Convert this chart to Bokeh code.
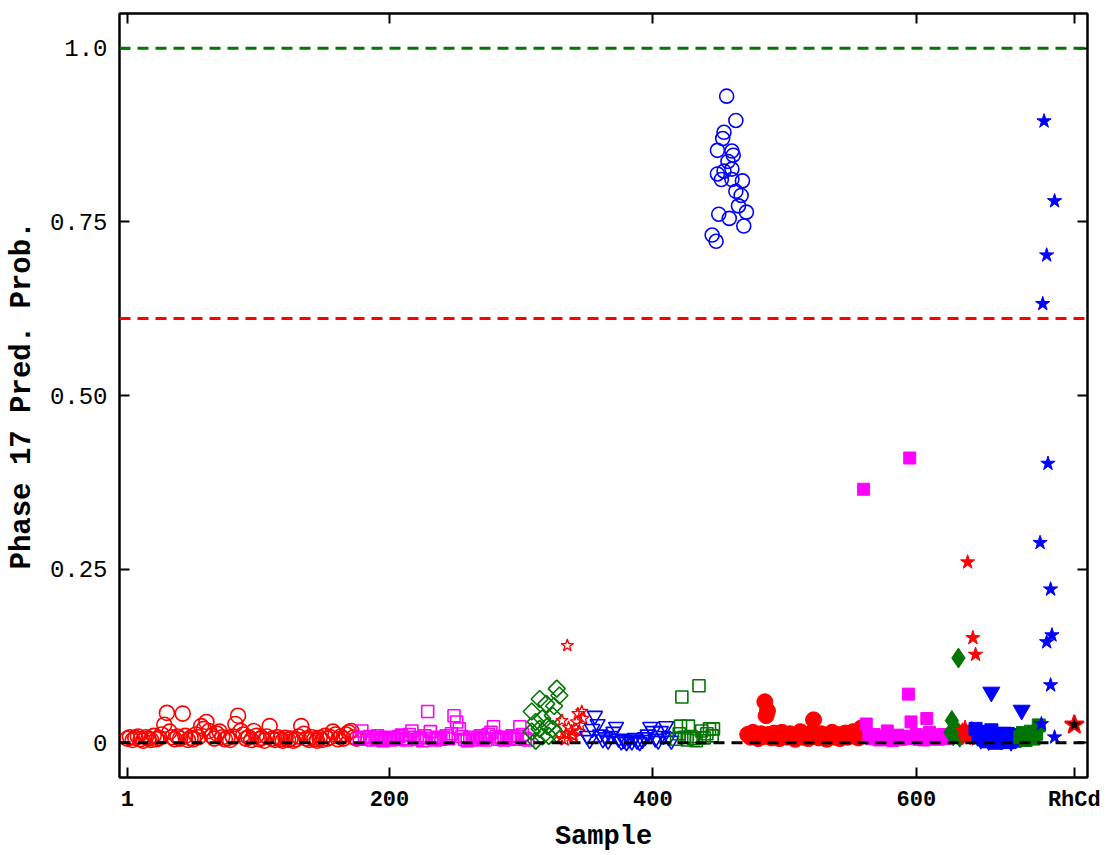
from bokeh.plotting import figure
from bokeh.models import Span, FixedTicker, LinearAxis
from bokeh.embed import file_html
from bokeh.resources import INLINE

# ---------------- data ----------------
red_open_x = [1,3,5,7,9,11,13,15,17,19,21,23,25,27,29,31,33,35,37,39,41,43,45,47,49,51,53,55,57,59,
              61,63,65,67,69,71,73,75,77,79,81,83,85,87,89,91,93,95,97,99,101,103,105,107,109,111,113,115,117,119,
              121,123,125,127,129,131,133,135,137,139,141,143,145,147,149,151,153,155,157,159,161,163,165,167,169,171,173,175]
red_open_y = [0.006,0.008,0.004,0.007,0.009,0.005,0.003,0.008,0.006,0.004,0.010,0.005,0.007,0.012,0.026,0.043,0.016,0.008,0.005,0.009,
              0.006,0.042,0.010,0.004,0.007,0.005,0.012,0.008,0.024,0.020,0.030,0.017,0.010,0.006,0.013,0.016,0.008,0.005,0.007,0.004,
              0.009,0.027,0.039,0.017,0.012,0.006,0.008,0.004,0.017,0.010,0.005,0.007,0.003,0.009,0.024,0.006,0.004,0.008,0.005,0.003,
              0.007,0.004,0.006,0.003,0.005,0.009,0.024,0.013,0.006,0.004,0.008,0.005,0.003,0.007,0.004,0.010,0.006,0.008,0.016,0.012,
              0.005,0.009,0.006,0.012,0.015,0.017,0.008,0.006]

mag_open_x = [177,179,181,183,185,187,189,191,193,195,197,199,201,203,205,207,209,211,213,215,217,219,221,223,225,227,229,231,233,235,
              237,239,241,243,245,247,249,251,253,255,257,259,261,263,265,267,269,271,273,275,277,279,281,283,285,287,289,291,293,295,
              297,299,301,303,305]
mag_open_y = [0.006,0.017,0.008,0.005,0.009,0.004,0.007,0.010,0.005,0.003,0.008,0.006,0.004,0.007,0.005,0.009,0.011,0.006,0.004,0.012,
              0.017,0.008,0.005,0.007,0.003,0.010,0.045,0.016,0.006,0.004,0.008,0.005,0.007,0.010,0.006,0.013,0.039,0.030,0.020,0.009,
              0.005,0.003,0.007,0.004,0.008,0.005,0.010,0.006,0.004,0.012,0.015,0.023,0.009,0.005,0.007,0.004,0.008,0.006,0.010,0.005,
              0.009,0.023,0.012,0.006,0.004]

grn_open_d_x = [314,319,327,329,325,308,311,316,324,308,314,320,324,311,316,321,327]
grn_open_d_y = [0.063,0.056,0.078,0.068,0.053,0.045,0.030,0.035,0.039,0.016,0.020,0.024,0.020,0.003,0.009,0.010,0.013]

red_open_star_x = [331,334,335,338,340,342,344,346,331,336,339,343,345,347,333]
red_open_star_y = [0.032,0.013,0.140,0.017,0.009,0.030,0.016,0.045,0.006,0.022,0.011,0.042,0.025,0.035,0.004]

blue_open_tri_x = [350,352,354,356,358,360,362,364,366,368,370,372,374,376,378,380,382,384,386,388,390,392,394,396,398,400,402,404,406,408,410,412,414]
blue_open_tri_y = [0.010,0.004,0.020,0.039,0.027,0.012,0.005,0.008,0.003,0.010,0.016,0.023,0.006,0.002,0.004,0.001,0.005,0.002,0.007,0.003,
                   0.001,0.004,0.008,0.012,0.023,0.017,0.006,0.003,0.017,0.010,0.024,0.008,0.003]

blue_open_circ_x = [456,463,454,453,449,460,461,457,460,454,449,452,460,468,463,467,465,471,450,458,469,445,448]
blue_open_circ_y = [0.931,0.896,0.879,0.870,0.853,0.852,0.846,0.837,0.826,0.823,0.819,0.811,0.811,0.809,0.794,0.788,0.773,0.764,0.761,0.755,
                    0.744,0.731,0.722]

grn_open_sq_x = [418,420,421,422,424,426,427,429,431,433,435,437,439,441,443,445,446]
grn_open_sq_y = [0.005,0.013,0.024,0.066,0.008,0.004,0.024,0.009,0.006,0.003,0.082,0.017,0.007,0.013,0.020,0.010,0.020]

red_fill_x = [472,474,476,478,480,482,484,485,486,487,488,490,492,494,496,498,500,502,504,506,508,510,512,514,516,518,520,522,524,526,
              528,530,532,534,536,538,540,542,544,546,548,550,552,554,556,558]
red_fill_y = [0.012,0.008,0.015,0.010,0.006,0.013,0.009,0.059,0.039,0.046,0.012,0.007,0.014,0.010,0.006,0.015,0.011,0.008,0.013,0.009,
              0.005,0.012,0.016,0.008,0.011,0.006,0.014,0.033,0.010,0.007,0.013,0.009,0.005,0.011,0.015,0.008,0.012,0.006,0.010,0.014,
              0.008,0.011,0.016,0.009,0.007,0.021]

mag_fill_x = [560,562,564,566,568,570,572,574,576,578,580,582,584,586,588,590,592,594,595,596,598,600,602,604,606,608,610,612,614,616,618,620,622]
mag_fill_y = [0.365,0.027,0.010,0.006,0.012,0.008,0.004,0.009,0.005,0.017,0.007,0.003,0.008,0.011,0.005,0.009,0.006,0.070,0.410,0.030,
              0.008,0.012,0.005,0.009,0.004,0.035,0.015,0.007,0.010,0.005,0.008,0.012,0.006]

grn_fill_d_x = [626,627,628,630,632,633]
grn_fill_d_y = [0.015,0.032,0.010,0.020,0.122,0.008]

red_fill_star_x = [635,636,637,638,639,640,641,642,643,644,645,646]
red_fill_star_y = [0.018,0.010,0.022,0.006,0.260,0.014,0.008,0.020,0.151,0.012,0.127,0.005]

blue_fill_sq_x = [645,647,649,651,653,655,657,659,661,663,665,667,669,671,673,675,677]
blue_fill_sq_y = [0.020,0.008,0.015,0.005,0.012,0.002,0.018,0.007,0.000,0.010,0.004,0.013,0.006,0.001,0.009,0.003,0.011]

blue_fill_tri_x = [646,649,652,655,657,660,664,668,672,676,680]
blue_fill_tri_y = [0.012,0.005,0.018,0.003,0.073,0.010,0.004,0.015,0.002,0.008,0.047]

grn_fill_sq_x = [679,681,683,685,687,689,691,693]
grn_fill_sq_y = [0.008,0.014,0.004,0.010,0.016,0.006,0.013,0.025]

blue_fill_star_x = [697,705,699,696,700,694,702,703,699,702,695,705]
blue_fill_star_y = [0.895,0.780,0.702,0.632,0.402,0.288,0.221,0.155,0.145,0.083,0.027,0.008]

rhcd_x = [720]
rhcd_y = [0.026]

x_ticks = [1, 200, 400, 600, 720]
x_tick_labels = ["1", "200", "400", "600", "RhCd"]
y_ticks = [0, 0.25, 0.5, 0.75, 1.0]
y_tick_labels = ["0", "0.25", "0.50", "0.75", "1.0"]

upper_threshold = 1.0
red_threshold = 0.611
zero_line = 0.0

# ---------------- figure ----------------
RED = "#FF0000"
MAG = "#FF00FF"
GRN = "#037503"
BLUE = "#0000FF"
FONT = "Liberation Mono"

p = figure(frame_width=968, frame_height=764, x_range=(-5, 730), y_range=(-0.05, 1.05),
           output_backend="svg", toolbar_location=None,
           min_border_left=119, min_border_top=13, min_border_right=14, min_border_bottom=64)
p.grid.visible = False
p.outline_line_color = "black"
p.outline_line_width = 2
p.background_fill_color = "white"
p.border_fill_color = "white"

ow = 1.6
p.scatter(red_open_x, red_open_y, marker="circle", size=15, fill_color=None, line_color=RED, line_width=ow)
p.scatter(mag_open_x, mag_open_y, marker="square", size=12, fill_color=None, line_color=MAG, line_width=ow)
p.scatter(grn_open_d_x, grn_open_d_y, marker="square", angle=0.7854, size=12, fill_color=None, line_color=GRN, line_width=ow)
p.scatter(red_open_star_x, red_open_star_y, marker="star", size=13, fill_color=None, line_color=RED, line_width=1.3)
p.scatter(blue_open_tri_x, blue_open_tri_y, marker="inverted_triangle", size=15, fill_color=None, line_color=BLUE, line_width=ow)
p.scatter(blue_open_circ_x, blue_open_circ_y, marker="circle", size=14, fill_color=None, line_color=BLUE, line_width=ow)
p.scatter(grn_open_sq_x, grn_open_sq_y, marker="square", size=12, fill_color=None, line_color=GRN, line_width=ow)
p.scatter(red_fill_x, red_fill_y, marker="circle", size=16, fill_color=RED, line_color=RED)
p.scatter(mag_fill_x, mag_fill_y, marker="square", size=12, fill_color=MAG, line_color=MAG)
p.scatter(grn_fill_d_x, grn_fill_d_y, marker="diamond", size=20, fill_color=GRN, line_color=GRN)
p.scatter(red_fill_star_x, red_fill_star_y, marker="star", size=15, fill_color=RED, line_color=RED)
p.scatter(blue_fill_sq_x, blue_fill_sq_y, marker="square", size=13, fill_color=BLUE, line_color=BLUE)
p.scatter(blue_fill_tri_x, blue_fill_tri_y, marker="inverted_triangle", size=17, fill_color=BLUE, line_color=BLUE)
p.scatter(grn_fill_sq_x, grn_fill_sq_y, marker="square", size=13, fill_color=GRN, line_color=GRN)
p.scatter(blue_fill_star_x, blue_fill_star_y, marker="star", size=15, fill_color=BLUE, line_color=BLUE)
p.scatter(rhcd_x, rhcd_y, marker="star", size=20, fill_color="black", line_color=RED, line_width=2)

for loc, col in [(upper_threshold, GRN), (red_threshold, RED), (zero_line, "black")]:
    p.add_layout(Span(location=loc, dimension="width", line_color=col, line_dash="11 7", line_width=3))

# axes
xb = p.xaxis[0]
yl = p.yaxis[0]
xb.ticker = FixedTicker(ticks=x_ticks)
xb.major_label_overrides = {t: l for t, l in zip(x_ticks, x_tick_labels)}
yl.ticker = FixedTicker(ticks=y_ticks)
yl.major_label_overrides = {t: l for t, l in zip(y_ticks, y_tick_labels)}
xb.axis_label = "Sample"
yl.axis_label = "Phase 17 Pred. Prob."

top = LinearAxis(ticker=FixedTicker(ticks=x_ticks))
top.major_label_overrides = {t: "" for t in x_ticks}
right = LinearAxis(ticker=FixedTicker(ticks=y_ticks))
right.major_label_overrides = {t: "" for t in y_ticks}
p.add_layout(top, "above")
p.add_layout(right, "right")

for ax in [xb, yl, top, right]:
    ax.axis_line_width = 2
    ax.axis_line_color = "black"
    ax.major_tick_in = 10
    ax.major_tick_out = 0
    ax.major_tick_line_width = 2
    ax.major_tick_line_color = "black"
    ax.minor_tick_in = 0
    ax.minor_tick_out = 0
    ax.major_label_text_font = FONT
    ax.axis_label_text_font = FONT
    ax.axis_label_text_font_style = "bold"
    ax.axis_label_text_color = "black"
    ax.major_label_text_color = "black"

for ax in [top, right]:
    ax.major_label_standoff = 0
    ax.axis_label_standoff = 0

xb.major_label_text_font_size = "22px"
xb.major_label_text_font_style = "bold"
xb.major_label_standoff = 10
xb.axis_label_text_font_size = "27px"
xb.axis_label_standoff = 6
yl.major_label_text_font_size = "24px"
yl.major_label_standoff = 12
yl.axis_label_text_font_size = "29px"
yl.axis_label_standoff = 8

open("out.html", "w").write(file_html(p, INLINE))
